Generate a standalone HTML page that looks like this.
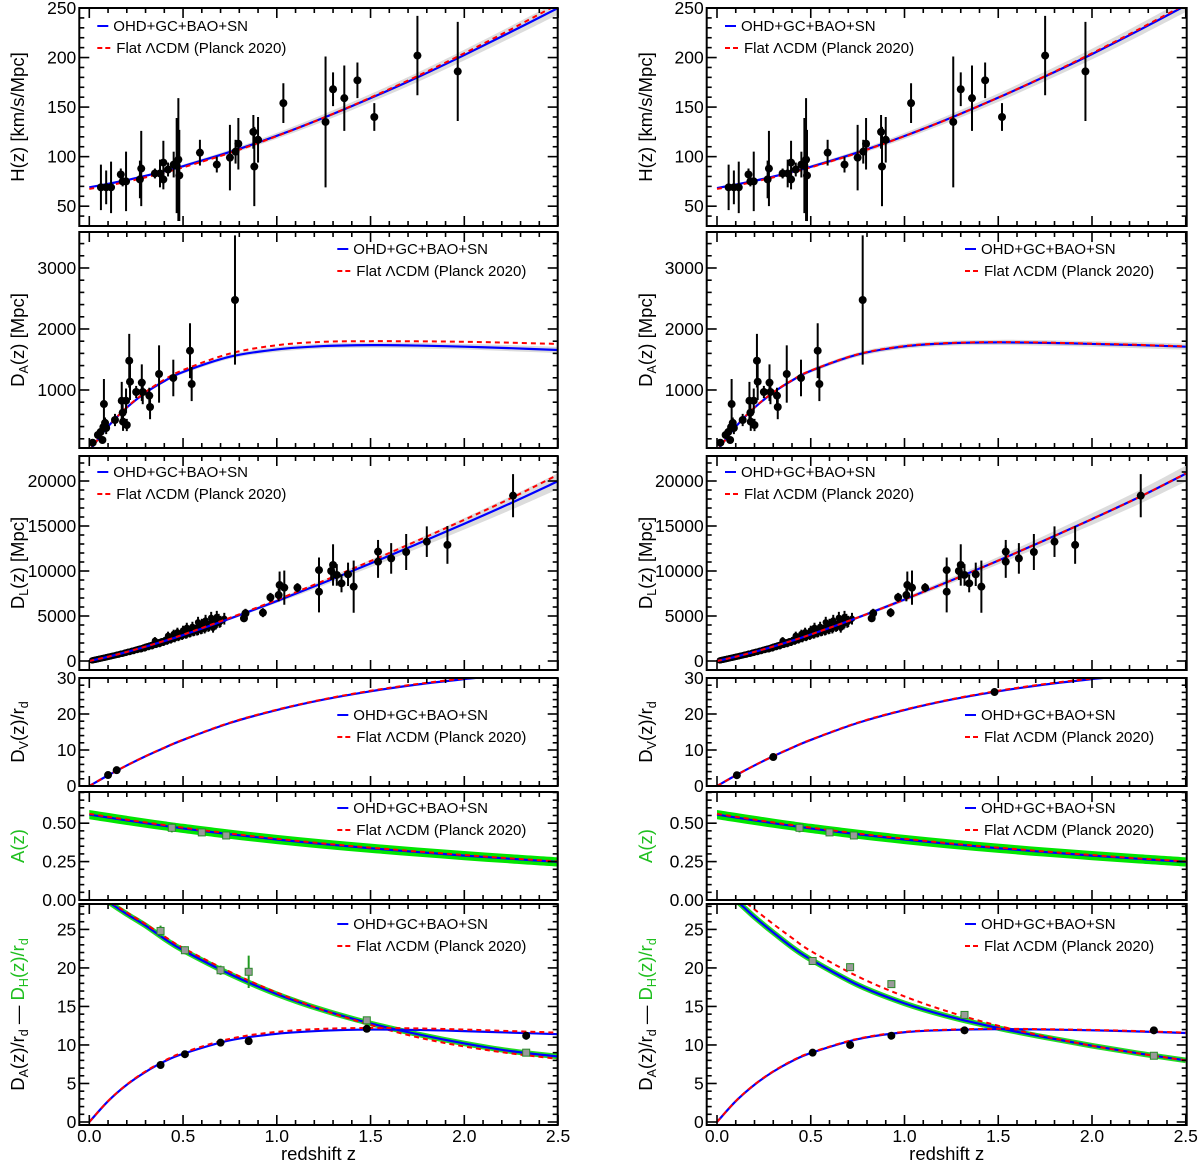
<!DOCTYPE html>
<html><head><meta charset="utf-8"><title>Cosmology fits</title>
<style>
html,body{margin:0;padding:0;background:#fff;}
svg{display:block;font-family:"Liberation Sans",sans-serif;}
</style></head>
<body>
<svg id="fig" width="1200" height="1165" viewBox="0 0 1200 1165" xmlns="http://www.w3.org/2000/svg">
<defs id="defs"></defs>
</svg>
<script>
// ---- data ----
const zGrid=[0,0.1,0.2,0.3,0.4,0.5,0.75,1,1.25,1.5,1.75,2,2.25,2.5];
// H(z)
const hBlueL=[69,72.5,76.3,80.6,85.3,90.4,104.7,121,139.2,159,180,202.5,226,250];
const hRedL=[67.4,70.8,74.7,79.1,83.9,89.1,103.8,120.7,139.3,159.6,181.3,204.3,228.6,253.9];
const hBlueR=[68.3,71.8,75.6,79.9,84.6,89.7,104.2,120.8,139.4,159.5,181,203.5,227.5,252.5];
const hRedR=[67.4,70.8,74.7,79.1,83.9,89.1,103.8,120.7,139.3,159.6,181.3,204.3,228.6,253.9];
const hBand=[1,1,1,1.2,1.4,1.6,2.2,3,3.6,4.2,4.8,5.4,6,6.6];
const hZ=[0.062,0.09,0.116,0.168,0.178,0.196,0.27,0.277,0.35,0.377,0.395,0.395,0.42,0.45,0.466,0.475,0.48,0.59,0.68,0.75,0.78,0.795,0.875,0.88,0.9,1.035,1.26,1.3,1.36,1.43,1.52,1.75,1.965];
const hVal=[69,69,69,82,75,75,77,88,83,83,94,77,87,92,91,97,81,104,92,99,105,113,125,90,117,154,135,168,159,177,140,202,186];
const hErr=[23,17,26,6,5,30,19,38,5,14,22,10,7,13,48,62,46,13,8,33,12,26,17,40,23,20,66,17,33,18,14,40,50];
// D_A
const daBlueL=[0,400,712,955,1145,1295,1545,1665,1720,1735,1728,1710,1685,1655];
const daRedL=[0,400,716,967,1168,1327,1597,1734,1790,1800,1798,1790,1775,1755];
const daBlueR=[0,398,710,958,1155,1313,1580,1715,1767,1780,1773,1755,1735,1710];
const daRedR=[0,400,714,962,1160,1318,1585,1720,1772,1785,1778,1760,1740,1715];
const daBand=[0,10,15,20,25,30,35,40,40,42,45,45,50,50];
const daZ=[0.018,0.046,0.06,0.07,0.075,0.078,0.084,0.09,0.137,0.173,0.178,0.18,0.2,0.196,0.213,0.217,0.25,0.28,0.285,0.32,0.324,0.372,0.448,0.537,0.546,0.777];
const daVal=[136,262,311,180,393,770,460,377,508,824,628,480,426,824,1480,1136,967,1120,967,907,721,1262,1197,1644,1098,2475];
const daErr=[30,50,60,40,80,410,90,100,100,310,200,150,100,200,440,300,100,300,200,130,200,470,300,450,280,1060];
// D_L
const dlBlueL=[0,470,1000,1585,2215,2885,4710,6660,8710,10830,13010,15250,17560,19980];
const dlRedL=[0,474,1010,1603,2244,2928,4795,6800,8910,11100,13370,15690,18100,20700];
const dlBlueR=[0,476,1015,1610,2255,2942,4820,6835,8955,11155,13435,15770,18190,20810];
const dlRedR=[0,476,1015,1612,2256,2944,4820,6836,8956,11158,13440,15770,18195,20830];
const dlBand=[0,20,40,60,80,100,150,220,320,420,520,640,760,880];
const snZ=[0.015,0.02,0.03,0.04,0.05,0.06,0.07,0.08,0.09,0.1,0.11,0.12,0.13,0.14,0.15,0.16,0.17,0.18,0.19,0.2,0.21,0.22,0.23,0.24,0.25,0.26,0.27,0.28,0.29,0.3,0.31,0.32,0.33,0.34,0.35,0.36,0.37,0.38,0.39,0.4,0.41,0.42,0.43,0.44,0.45,0.46,0.47,0.48,0.49,0.5,0.51,0.52,0.53,0.54,0.55,0.56,0.57,0.58,0.59,0.6,0.61,0.62,0.63,0.64,0.65,0.66,0.67,0.68,0.69,0.7,0.72,0.65,0.6,0.55,0.5,0.45,0.62,0.68,0.58,0.52,0.47,0.66,0.42,0.35];
const snDL=[65,90,130,180,230,270,330,360,420,460,500,560,600,650,720,760,820,840,930,980,1040,1060,1150,1180,1250,1330,1380,1420,1500,1580,1630,1700,1750,1850,1890,1950,2050,2100,2150,2250,2300,2400,2450,2600,2550,2700,2800,2750,2950,2900,3100,3000,3250,3150,3350,3300,3500,3400,3700,3550,3800,3750,4050,3900,4200,4000,4400,4250,4600,4400,4700,4800,4100,3800,3400,3000,4500,4900,4300,3700,3200,3700,2800,2250];
const snZ2=[0.025,0.035,0.045,0.055,0.065,0.075,0.085,0.095,0.105,0.115,0.125,0.135,0.145,0.155,0.165,0.175,0.185,0.195,0.205,0.215,0.225,0.235,0.245,0.255,0.265,0.275,0.285,0.295,0.305,0.315,0.325,0.335,0.345,0.355,0.365,0.375,0.385,0.395,0.405,0.415,0.425,0.435,0.445,0.455,0.465,0.475,0.485,0.495,0.505,0.515,0.525,0.535,0.545,0.555,0.565,0.575,0.585,0.595,0.605,0.615,0.625,0.635,0.645,0.655,0.665,0.675,0.685,0.695];
const snDL2=[120,160,200,250,300,340,380,430,490,520,580,620,680,700,780,800,880,900,1000,1000,1120,1100,1230,1220,1330,1300,1450,1400,1600,1550,1720,1650,1850,1800,2000,1900,2150,2050,2300,2200,2450,2350,2600,2500,2750,2650,2900,2800,3050,2950,3200,3100,3350,3250,3500,3350,3650,3500,3850,3600,4000,3800,4150,3950,4350,4100,4500,4300];
const dlZ=[0.825,0.833,0.926,0.966,1.01,1.015,1.04,1.11,1.225,1.225,1.29,1.3,1.32,1.345,1.38,1.41,1.54,1.54,1.61,1.69,1.8,1.91,2.26];
const dlVal=[4740,5300,5370,7070,7330,8440,8150,8150,10100,7700,10000,10670,9560,8630,9630,8260,12150,11040,11400,12110,13260,12900,18370];
const dlErr=[400,500,500,500,700,1500,1900,500,1400,2300,1000,2300,1200,1000,1300,2900,1300,1800,1700,2000,1700,2100,2400];
// D_V / r_d
const dvBlue=[0,2.95,5.71,8.27,10.6,12.8,17.5,21.1,24.0,26.3,28.2,29.7,31.0,32.1];
const dvRed=[0,2.96,5.73,8.3,10.65,12.85,17.6,21.2,24.1,26.45,28.35,29.85,31.15,32.2];
const dvZL=[0.1,0.146];
const dvValL=[3.05,4.4];
const dvZR=[0.106,0.3,1.48];
const dvValR=[3.0,8.05,26.1];
// A(z)
const aBlue=[0.556,0.537,0.518,0.5,0.483,0.466,0.428,0.394,0.364,0.337,0.312,0.289,0.268,0.248];
const aRed=[0.561,0.542,0.523,0.505,0.488,0.471,0.433,0.399,0.368,0.341,0.316,0.293,0.271,0.251];
const aZ=[0.44,0.6,0.73];
const aVal=[0.47,0.44,0.42];
const aErr=[0.03,0.015,0.015];
// D_A/r_d and D_H/r_d
const dhBlueL=[30.3,28.6,27.0,25.5,23.8,22.3,19.2,16.6,14.5,12.8,11.4,10.2,9.2,8.5];
const dhRedL=[30.5,28.8,27.2,25.7,24.1,22.6,19.5,16.8,14.5,12.6,11.0,9.8,8.9,8.2];
const dhBlueR=[30.5,28.8,26.6,24.6,22.7,21.1,17.8,15.4,13.6,12.2,11.0,9.9,8.9,8.0];
const dhRedR=[31,29.5,27.6,25.7,23.9,22.2,18.9,16.3,14.2,12.5,11.1,9.9,8.9,8.0];
const darBlueL=[0,2.7,4.83,6.5,7.85,8.85,10.6,11.45,11.85,12.0,11.95,11.8,11.6,11.4];
const darRedL=[0,2.72,4.87,6.58,7.95,9.0,10.8,11.7,12.1,12.2,12.15,12.0,11.8,11.6];
const darBlueR=[0,2.7,4.84,6.54,7.9,8.95,10.75,11.65,11.95,12.05,12.0,11.9,11.75,11.55];
const darRedR=[0,2.72,4.87,6.58,7.95,9.0,10.8,11.7,12.0,12.1,12.05,11.95,11.8,11.6];
const dhZL=[0.38,0.51,0.70,0.85,1.48,2.33];
const dhValL=[24.8,22.3,19.7,19.5,13.2,9.0];
const dhErrL=[0.7,0.5,0.6,2.1,0.5,0.3];
const darValL=[7.4,8.8,10.3,10.5,12.1,11.2];
const darErrL=[0.2,0.15,0.2,0.4,0.3,0.5];
const dhZR=[0.51,0.71,0.93,1.32,2.33];
const dhValR=[20.9,20.1,17.9,13.9,8.6];
const dhErrR=[0.5,0.5,0.3,0.3,0.2];
const darValR=[9.0,10.0,11.2,11.9,11.9];
const darErrR=[0.15,0.2,0.15,0.2,0.2];
// tick labels
const xTickLabels=["0.0","0.5","1.0","1.5","2.0","2.5"];

// ---- layout ----
const NS="http://www.w3.org/2000/svg";
const svg=document.getElementById('fig');
const defs=document.getElementById('defs');
const cols=[{x0:89.3,left:79.3,right:557.7},{x0:717,left:706.7,right:1186.7}];
const XS=187.5;
const panels=[
 {top:8,bottom:226,min:30,max:250,majors:[50,100,150,200,250],labels:["50","100","150","200","250"],minStep:10,minFrom:30},
 {top:232,bottom:448,min:49,max:3590,majors:[1000,2000,3000],labels:["1000","2000","3000"],minStep:200,minFrom:200},
 {top:456,bottom:670,min:-1000,max:22778,majors:[0,5000,10000,15000,20000],labels:["0","5000","10000","15000","20000"],minStep:1000,minFrom:0},
 {top:678,bottom:786,min:0,max:30,majors:[0,10,20,30],labels:["0","10","20","30"],minStep:2,minFrom:0},
 {top:792,bottom:900,min:0,max:0.703,majors:[0,0.25,0.5],labels:["0.00","0.25","0.50"],minStep:0.05,minFrom:0},
 {top:904,bottom:1125,min:-0.39,max:28.3,majors:[0,5,10,15,20,25],labels:["0","5","10","15","20","25"],minStep:1,minFrom:0}
];
function X(c,z){return cols[c].x0+z*XS;}
function Y(p,v){const P=panels[p];return P.bottom-(v-P.min)/(P.max-P.min)*(P.bottom-P.top);}
function mk(tag,attrs,parent){const e=document.createElementNS(NS,tag);for(const k in attrs)e.setAttribute(k,attrs[k]);(parent||svg).appendChild(e);return e;}
function segs(pts){
  let d="";
  for(let i=0;i<pts.length-1;i++){
    const p0=pts[i-1]||pts[i],p1=pts[i],p2=pts[i+1],p3=pts[i+2]||pts[i+1];
    const c1=[p1[0]+(p2[0]-p0[0])/6,p1[1]+(p2[1]-p0[1])/6];
    const c2=[p2[0]-(p3[0]-p1[0])/6,p2[1]-(p3[1]-p1[1])/6];
    d+=" C "+c1[0].toFixed(2)+" "+c1[1].toFixed(2)+" "+c2[0].toFixed(2)+" "+c2[1].toFixed(2)+" "+p2[0].toFixed(2)+" "+p2[1].toFixed(2);
  }
  return d;
}
function spline(pts){return "M "+pts[0][0].toFixed(2)+" "+pts[0][1].toFixed(2)+segs(pts);}
function curvePts(c,p,vals,off){return zGrid.map((z,i)=>[X(c,z),Y(p,vals[i]+(off?off[i]:0))]);}
function line(g,c,p,vals,kind,name){
  const attrs={d:spline(curvePts(c,p,vals)),fill:"none"};
  if(kind==="blue"){attrs.stroke="#0000ff";attrs["stroke-width"]="2.2";}
  else if(kind==="red"){attrs.stroke="#ff0000";attrs["stroke-width"]="2";attrs["stroke-dasharray"]="5,4";}
  else if(kind==="greenedge"){attrs.stroke="#22dd22";attrs["stroke-width"]="5.5";}
  const e=mk("path",attrs,g);
  
  
  return e;
}
function band(g,c,p,vals,w,color,name){
  const up=curvePts(c,p,vals,w);
  const lo=curvePts(c,p,vals,w.map(v=>-v)).reverse();
  const d=spline(up)+" L "+lo[0][0].toFixed(2)+" "+lo[0][1].toFixed(2)+segs(lo)+" Z";
  const e=mk("path",{d:d,fill:color,stroke:"none"},g);
  
  
}
function points(g,c,p,zs,vals,errs,style,name){
  zs.forEach((z,i)=>{
    const x=X(c,z),y=Y(p,vals[i]);
    const gr=mk("g",{},g);
    
    
    const er=errs?errs[i]:0;
    if(er>0){
      mk("line",{x1:x,x2:x,y1:Y(p,vals[i]-er),y2:Y(p,vals[i]+er),stroke:style==="sq"?"#1f9a1f":"#000","stroke-width":"2"},gr);
    }
    if(style==="sq") mk("rect",{x:x-3.5,y:y-3.5,width:7,height:7,fill:"#9a9a9a",stroke:"#2a8a2a","stroke-width":"1"},gr);
    else mk("circle",{cx:x,cy:y,r:style==="small"?3.2:4,fill:"#000"},gr);
  });
}
function legend(c,p,lx,ly){
  const g=mk("g",{});
  
  
  const x=cols[c].x0+lx;
  const y1=panels[p].top+ly,y2=y1+22;
  const l1=mk("line",{x1:x,x2:x+11,y1:y1,y2:y1,stroke:"#0000ff","stroke-width":"2"},g);
  
  
  const t1=mk("text",{x:x+16,y:y1+5,"font-size":"15",fill:"#000"},g);
  t1.textContent="OHD+GC+BAO+SN";
  
  
  const l2=mk("line",{x1:x,x2:x+13,y1:y2,y2:y2,stroke:"#ff0000","stroke-width":"2","stroke-dasharray":"5,3"},g);
  
  
  const t2=mk("text",{x:x+19,y:y2+5,"font-size":"15",fill:"#000"},g);
  t2.textContent="Flat \u039BCDM (Planck 2020)";
  
  
}

const titles=[
 [["H(z)  [km/s/Mpc]","#000",""]],
 [["D","#000",""],["A","#000","sub"],["(z) [Mpc]","#000",""]],
 [["D","#000",""],["L","#000","sub"],["(z) [Mpc]","#000",""]],
 [["D","#000",""],["V","#000","sub"],["(z)/r","#000",""],["d","#000","sub"]],
 [["A(z)","#1fbf1f",""]],
 [["D","#000",""],["A","#000","sub"],["(z)/r","#000",""],["d","#000","sub"],[" \u2014 ","#000",""],["D","#1fbf1f",""],["H","#1fbf1f","sub"],["(z)/r","#1fbf1f",""],["d","#1fbf1f","sub"]]
];

for(let c=0;c<2;c++){
  const C=cols[c];
  const R=c===0;
  for(let p=0;p<6;p++){
    const P=panels[p];
    const cp=mk("clipPath",{id:"cp"+c+p},defs);
    mk("rect",{x:C.left,y:P.top,width:C.right-C.left,height:P.bottom-P.top},cp);
    const g=mk("g",{"clip-path":"url(#cp"+c+p+")"});
    
    
    if(p===0){
      band(g,c,p,R?hBlueL:hBlueR,hBand,"#dcdcdc","confidence-band");
      line(g,c,p,R?hBlueL:hBlueR,"blue","fit-curve");
      line(g,c,p,R?hRedL:hRedR,"red","lcdm-curve");
      points(g,c,p,hZ,hVal,hErr,"dot","hz-point");
    }else if(p===1){
      band(g,c,p,R?daBlueL:daBlueR,daBand,"#dcdcdc","confidence-band");
      line(g,c,p,R?daBlueL:daBlueR,"blue","fit-curve");
      line(g,c,p,R?daRedL:daRedR,"red","lcdm-curve");
      points(g,c,p,daZ,daVal,daErr,"dot","da-point");
    }else if(p===2){
      band(g,c,p,R?dlBlueL:dlBlueR,dlBand,"#dcdcdc","confidence-band");
      points(g,c,p,snZ,snDL,snDL.map(v=>v*0.1+180),"small","sn-point");
      points(g,c,p,snZ2,snDL2,snDL2.map(v=>v*0.1+180),"small","sn-point");
      line(g,c,p,R?dlBlueL:dlBlueR,"blue","fit-curve");
      line(g,c,p,R?dlRedL:dlRedR,"red","lcdm-curve");
      points(g,c,p,dlZ,dlVal,dlErr,"dot","dl-point");
    }else if(p===3){
      line(g,c,p,dvBlue,"blue","fit-curve");
      line(g,c,p,dvRed,"red","lcdm-curve");
      if(R) points(g,c,p,dvZL,dvValL,null,"dot","dv-point");
      else points(g,c,p,dvZR,dvValR,null,"dot","dv-point");
    }else if(p===4){
      band(g,c,p,aBlue,aBlue.map(()=>0.03),"#00e600","a-band");
      line(g,c,p,aBlue,"blue","fit-curve");
      line(g,c,p,aRed,"red","lcdm-curve");
      points(g,c,p,aZ,aVal,aErr,"sq","a-point");
    }else{
      line(g,c,p,R?dhBlueL:dhBlueR,"greenedge","dh-band");
      line(g,c,p,R?dhBlueL:dhBlueR,"blue","dh-fit-curve");
      line(g,c,p,R?dhRedL:dhRedR,"red","dh-lcdm-curve");
      line(g,c,p,R?darBlueL:darBlueR,"blue","da-fit-curve");
      line(g,c,p,R?darRedL:darRedR,"red","da-lcdm-curve");
      if(R){points(g,c,p,dhZL,dhValL,dhErrL,"sq","dh-point");points(g,c,p,dhZL,darValL,darErrL,"dot","dar-point");}
      else{points(g,c,p,dhZR,dhValR,dhErrR,"sq","dh-point");points(g,c,p,dhZR,darValR,darErrR,"dot","dar-point");}
    }
    // frame + ticks
    const ax=mk("g",{stroke:"#000","stroke-width":"1.6",fill:"none"});
    
    
    mk("rect",{x:C.left,y:P.top,width:C.right-C.left,height:P.bottom-P.top,"stroke-width":"2"},ax);
    for(let k=0;k<=25;k++){
      const z=k/10;const x=X(c,z);const L=(k%5===0)?10:5;
      mk("line",{x1:x,x2:x,y1:P.bottom,y2:P.bottom-L},ax);
      mk("line",{x1:x,x2:x,y1:P.top,y2:P.top+L},ax);
    }
    for(let v=P.minFrom;v<=P.max+1e-9;v+=P.minStep){
      const y=Y(p,v);if(y<P.top-0.5||y>P.bottom+0.5)continue;
      const maj=P.majors.some(m=>Math.abs(m-v)<P.minStep/10);const L=maj?10:5;
      mk("line",{x1:C.left,x2:C.left+L,y1:y,y2:y},ax);
      mk("line",{x1:C.right,x2:C.right-L,y1:y,y2:y},ax);
    }
    P.majors.forEach((m,i)=>{
      const t=mk("text",{x:C.left-3,y:Y(p,m)+6,"font-size":"17.5","text-anchor":"end",fill:"#000"});
      t.textContent=P.labels[i];
      
      
    });
    // y title
    const ty=(P.top+P.bottom)/2;const tx=c===0?24:652;
    const tt=mk("text",{x:0,y:0,"font-size":"18.5","text-anchor":"middle","xml:space":"preserve",transform:"translate("+tx+","+ty+") rotate(-90)"});
    
    
    let sub=false;
    titles[p].forEach(s=>{
      const ts=mk("tspan",{fill:s[1]},tt);
      if(s[2]==="sub"){ts.setAttribute("dy","4");ts.setAttribute("font-size","12.5");sub=true;}
      else if(sub){ts.setAttribute("dy","-4");sub=false;}
      ts.textContent=s[0];
    });
  }
  // legends
  legend(c,0,8,18);
  legend(c,1,248,17);
  legend(c,2,8,16);
  legend(c,3,248,37);
  legend(c,4,248,16);
  legend(c,5,248,20);
  // x tick labels
  xTickLabels.forEach((s,i)=>{
    const t=mk("text",{x:X(c,i*0.5),y:1142,"font-size":"17.5","text-anchor":"middle",fill:"#000"});
    t.textContent=s;
    
    
  });
  const xt=mk("text",{x:(C.left+C.right)/2,y:1160,"font-size":"18.5","text-anchor":"middle",fill:"#000","xml:space":"preserve"});
  xt.textContent="redshift  z";
  
  
}
</script>
</body></html>
